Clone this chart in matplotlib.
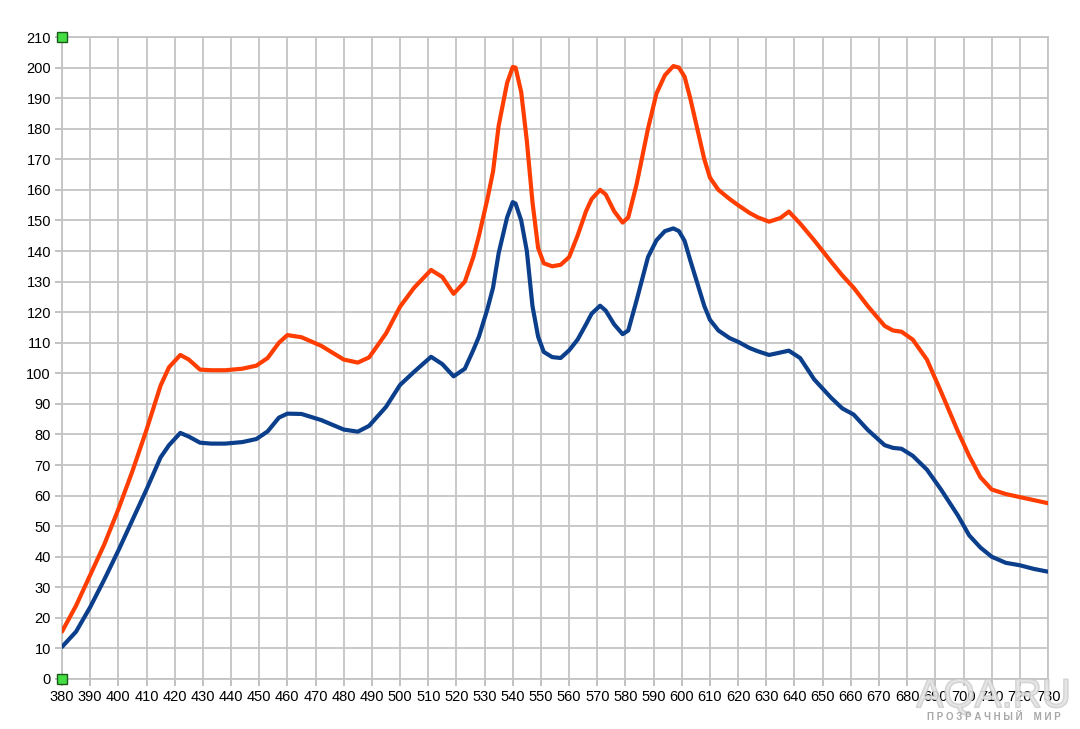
import numpy as np
import matplotlib.pyplot as plt
from matplotlib import patheffects

# Wavelength, nm
wl = [380, 385, 390, 395, 400, 405, 410, 415, 418, 422, 425, 429, 433, 438, 444,
      449, 453, 457, 460, 465, 472, 480, 485, 489, 495, 500, 505, 511,
      515, 519, 523, 526, 528, 531, 533, 535, 538, 540, 541, 543, 545, 547, 549, 551, 554,
      557, 560, 563, 566, 568, 571, 573, 576, 579, 581, 584, 588, 591, 594, 597, 599, 601, 603,
      605, 608, 610, 613, 617, 620, 624, 627, 631, 635, 638, 642, 647, 653, 657, 661, 666,
      672, 675, 678, 682, 687, 692, 698, 702, 706, 710, 715, 720, 725, 730]

# Orange curve
red = [15.5, 24, 34, 44, 55.5, 68, 81.5, 96, 102, 106, 104.5, 101.2, 101, 101, 101.5,
       102.5, 105, 110, 112.5, 111.8, 109, 104.5, 103.5, 105.2, 113, 121.8, 128, 133.8,
       131.5, 126, 130, 138, 145, 157, 166, 181, 195, 200.2, 200, 192, 176, 156, 141, 136, 135,
       135.5, 138, 145, 153, 157, 160, 158.5, 153, 149.3, 151, 162, 180, 191.5, 197.5, 200.5, 200, 197, 190,
       182, 170, 164, 160, 157, 155, 152.5, 151, 149.6, 150.8, 152.9, 149, 143.5, 136.5, 132, 128, 122,
       115.5, 114, 113.6, 111, 104.5, 94, 81, 73, 66, 62, 60.5, 59.5, 58.5, 57.5]

# Blue curve
blue = [10.5, 15.5, 23.5, 32.5, 42, 52, 62, 72.5, 76.5, 80.5, 79.3, 77.3, 77, 77, 77.5,
        78.5, 81, 85.5, 86.8, 86.7, 84.7, 81.6, 80.9, 82.8, 89, 96.2, 100.5, 105.4,
        103, 99, 101.5, 107.6, 112, 121, 128, 139.3, 151, 156, 155.5, 150, 140, 122, 112, 107, 105.3,
        105, 107.5, 111, 116, 119.5, 122.1, 120.5, 116, 112.8, 114, 124, 138, 143.5, 146.5, 147.4, 146.5, 143.3, 137,
        131, 122, 117.5, 114, 111.5, 110.3, 108.3, 107.2, 106, 106.8, 107.4, 105, 98, 92, 88.5, 86.5, 81.5,
        76.5, 75.6, 75.3, 73, 68.5, 62, 53.5, 47, 43, 40, 38, 37.2, 36, 35.1]

xticks = list(range(380, 731, 10))
yticks = list(range(0, 211, 10))

plt.rcParams['font.family'] = ['Liberation Sans', 'DejaVu Sans']

fig = plt.figure(figsize = (10.8, 7.29), dpi = 100)
ax = fig.add_axes([0.0574, 0.0686, 0.9130, 0.8806])

ax.plot(wl, red, color = '#ff3d00', lw = 3.0, solid_capstyle = 'round',
        solid_joinstyle = 'round', zorder = 3)
ax.plot(wl, blue, color = '#0b3f8c', lw = 3.0, solid_capstyle = 'round',
        solid_joinstyle = 'round', zorder = 3)

ax.set_xlim(380, 730)
ax.set_ylim(0, 210)
ax.set_xticks(xticks)
ax.set_yticks(yticks)
ax.tick_params(labelsize = 10.5, color = '#b8b8b8', length = 5, width = 1.2, pad = 3)
ax.grid(True, color = '#c4c4c4', lw = 1.3)
for s in ax.spines.values():
    s.set_color('#c4c4c4')
    s.set_linewidth(1.3)
ax.set_axisbelow(True)

#Green end markers of the axis
ax.plot([380, 380], [0, 210], ls = 'none', marker = 's', ms = 7, mfc = '#44dd44',
        mec = '#1a5a1a', mew = 1, clip_on = False, zorder = 5)

#Watermark (semi-transparent, over the tick labels as in the source)
wm = fig.text(0.920, 0.030, 'AQA.RU', fontsize = 29, color = '#e4e4e4', ha = 'center',
              va = 'baseline', alpha = 0.55, zorder = 10)
wm.set_path_effects([patheffects.withStroke(linewidth = 1.3, foreground = '#c0c0c0', alpha = 0.7)])
fig.text(0.920, 0.016, 'П Р О З Р А Ч Н Ы Й    М И Р', fontsize = 7, color = '#a8a8a8',
         fontweight = 'bold', ha = 'center', va = 'center', zorder = 10)

plt.savefig('out.png', dpi = 100)
